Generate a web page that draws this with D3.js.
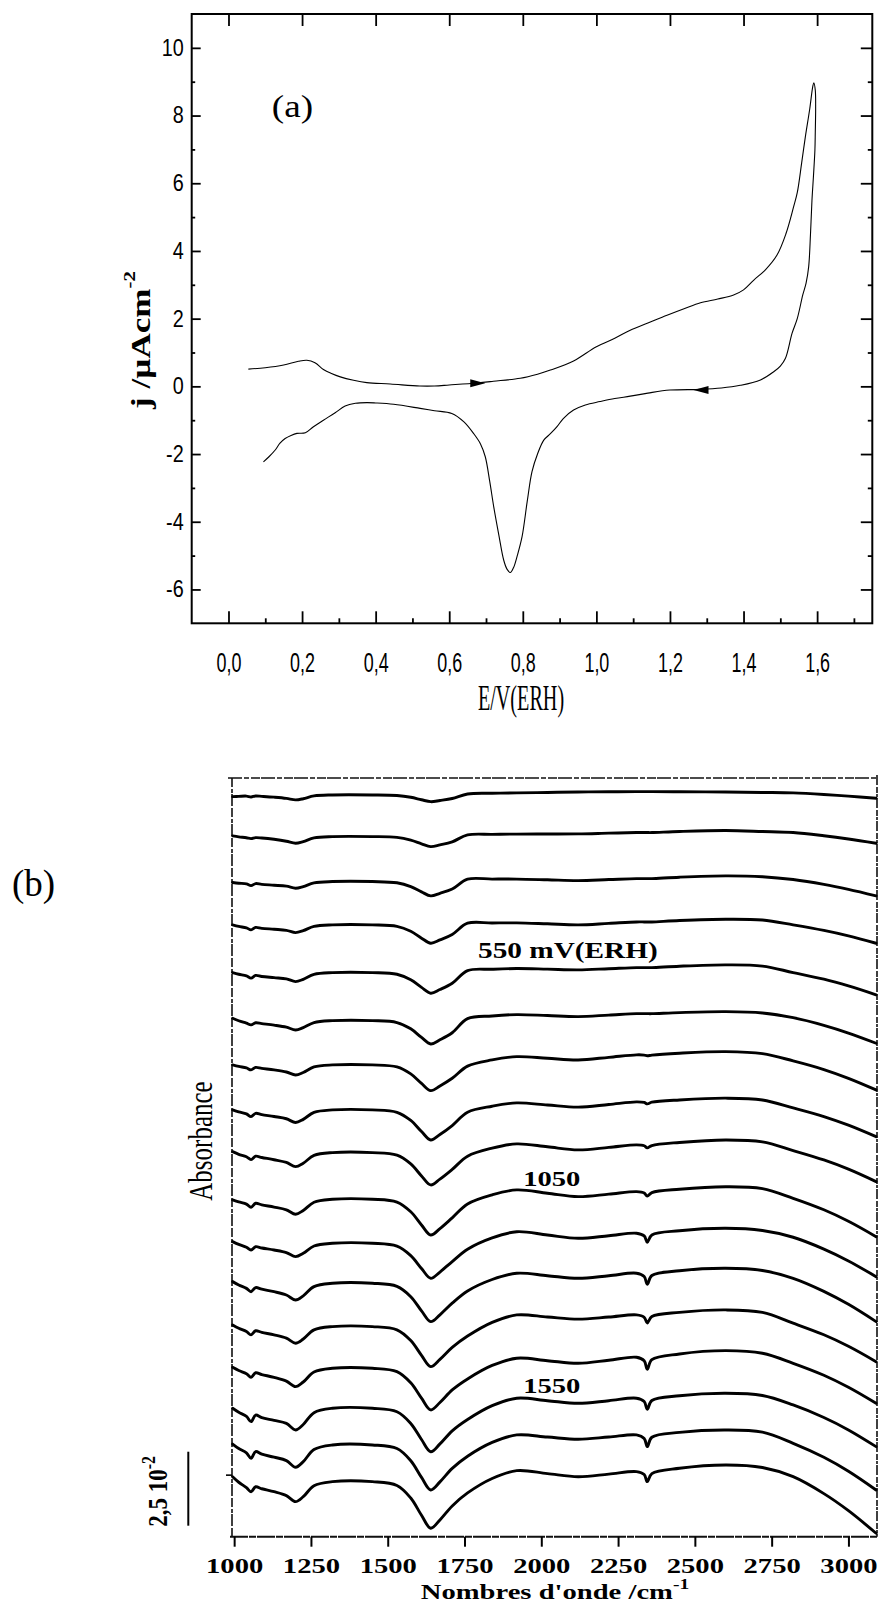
<!DOCTYPE html>
<html><head><meta charset="utf-8">
<script src="https://cdn.jsdelivr.net/npm/d3@7"></script>
<style>body{margin:0;background:#fff}svg{display:block}</style>
</head><body>
<svg id="fig" width="882" height="1604"></svg>
<script>
// ================= Panel (a): cyclic voltammogram =================
const cvE = [0.054,0.10,0.15,0.19,0.213,0.235,0.258,0.28,0.304,0.34,0.376,0.44,0.52,0.56,0.60,0.675,0.72,0.793,0.84,0.875,0.938,1.0,1.05,1.092,1.14,1.192,1.24,1.283,1.33,1.373,1.40,1.428,1.46,1.491,1.515,1.536,1.546,1.558,1.568,1.58,1.588,1.591,
  1.595,1.596,1.595,1.594,1.590,1.586,1.582,1.577,1.570,1.561,1.546,1.532,1.514,1.50,1.482,1.446,1.391,1.34,1.283,1.20,1.14,1.092,1.05,1.01,0.97,0.938,0.91,0.893,0.875,0.857,0.84,0.825,0.812,0.798,0.785,0.775,0.766,0.757,0.748,0.735,0.721,0.71,0.698,0.685,0.666,0.64,0.607,0.56,0.521,0.449,0.40,0.376,0.345,0.317,0.29,0.258,0.23,0.209,0.186,0.17,0.154,0.14,0.127,0.11,0.095];
const cvJ = [0.51,0.55,0.63,0.74,0.77,0.70,0.50,0.38,0.28,0.18,0.11,0.07,0.01,0.01,0.04,0.10,0.15,0.24,0.36,0.48,0.75,1.17,1.42,1.66,1.87,2.1,2.3,2.47,2.58,2.7,2.85,3.14,3.45,3.88,4.5,5.3,5.72,6.6,7.37,8.2,8.85,8.97,
  8.75,8.2,7.5,6.98,6.2,5.5,4.5,3.53,3.05,2.7,2.0,1.57,0.83,0.6,0.43,0.19,0.03,-0.05,-0.09,-0.11,-0.2,-0.29,-0.36,-0.45,-0.55,-0.70,-0.95,-1.19,-1.4,-1.59,-2.0,-2.52,-3.4,-4.44,-5.0,-5.35,-5.5,-5.4,-5.13,-4.4,-3.56,-2.8,-2.08,-1.7,-1.39,-1.05,-0.80,-0.72,-0.65,-0.53,-0.49,-0.48,-0.50,-0.58,-0.78,-1.0,-1.2,-1.37,-1.39,-1.45,-1.54,-1.68,-1.88,-2.08,-2.23];
const cvArrowE = [0.698, 1.264];
const cvArrowJ = [0.09, -0.11];
const cvArrowDir = [1, -1];
const aXTicks = [0,0.2,0.4,0.6,0.8,1.0,1.2,1.4,1.6];
const aXTickLabels = ["0,0","0,2","0,4","0,6","0,8","1,0","1,2","1,4","1,6"];
const aXMinor = [0.1,0.3,0.5,0.7,0.9,1.1,1.3,1.5,1.7];
const aYTicks = [-6,-4,-2,0,2,4,6,8,10];
const aYTickLabels = ["-6","-4","-2","0","2","4","6","8","10"];
const aYMinor = [-5,-3,-1,1,3,5,7,9];

// ================= Panel (b): stacked IR spectra =================
// absorbance values in units of 4·10^-4 (so the 2,5·10^-2 scale bar = 62.5 units)
const wavenumbers = [995,1015,1040,1055,1070,1090,1130,1170,1200,1225,1260,1320,1450,1530,1575,1610,1640,1670,1710,1760,1840,1920,2020,2120,2220,2310,2335,2345,2360,2450,2600,2720,2820,2920,3000,3090];
const spectraOffsets = [626.7,591.5,553.5,516.9,476.6,436.0,398.6,360.6,324.5,285.1,247.9,214.1,177.5,142.3,108.5,77.5,46.5];
const s1  = [-1.4,-1.2,-1.0,-1.7,-0.9,-1.2,-1.9,-2.9,-4.2,-3.2,-0.8,0,0,-0.5,-2.0,-4.1,-5.7,-4.7,-3.0,0.8,1.4,1.7,2.1,2.5,2.7,2.8,2.8,2.8,2.8,2.7,2.5,2.1,1.7,0.4,-1.0,-2.8];
const s2  = [0.6,-0.2,-1.0,-1.7,-0.9,-1.2,-2.3,-3.9,-5.6,-4.2,-1.1,0,0,-0.7,-3.0,-6.1,-8.5,-7.0,-4.4,1.4,1.9,2.1,2.2,2.3,2.9,3.4,3.4,3.4,3.4,4.3,5.1,4.3,3.4,0.7,-2.0,-5.6];
const s3  = [-0.8,-1.4,-2.0,-3.4,-1.7,-2.4,-3.1,-3.9,-5.6,-4.2,-1.1,0,0,-1.0,-4.2,-8.7,-12.1,-9.9,-6.3,2.0,2.1,2.1,1.5,0.8,1.7,2.5,2.5,2.5,2.5,3.7,4.8,4.1,1.7,-2.4,-6.6,-12.1];
const s4  = [0,-1.3,-2.5,-4.2,-2.1,-2.9,-3.7,-4.6,-6.5,-4.9,-1.3,0,0,-1.2,-5.4,-11.2,-15.5,-12.7,-8.1,1.4,1.6,1.7,0.9,0,1.3,2.5,2.5,2.5,2.5,3.7,4.8,4.1,0,-4.7,-9.3,-15.5];
const s5  = [0,-1.4,-2.8,-4.7,-2.4,-3.3,-4.3,-5.3,-7.6,-5.7,-1.5,0,0,-1.4,-6.1,-12.5,-17.4,-14.3,-9.0,1.7,2.8,3.4,2.9,2.3,3.3,4.2,4.2,4.2,4.2,5.4,6.5,5.5,0,-5.6,-11.3,-18.8];
const s6  = [2.0,-0.1,-2.2,-3.6,-1.8,-2.5,-3.8,-5.5,-7.9,-5.9,-1.6,0,0,-1.6,-6.9,-14.2,-19.7,-16.2,-10.2,1.7,3.9,5.1,4.3,3.4,4.7,5.9,5.9,5.9,5.9,6.8,7.6,6.5,2.5,-4.0,-10.5,-19.1];
const s7  = [0,-1.3,-2.5,-4.2,-2.1,-2.9,-4.2,-6.0,-8.5,-6.4,-1.7,0,0,-1.7,-7.6,-15.6,-21.7,-17.8,-11.3,-1.0,4.2,7.0,5.6,4.2,6.4,8.5,8.3,7.7,8.3,9.9,11.2,9.5,3.4,-3.9,-11.3,-21.1];
const s8  = [0,-1.7,-3.4,-5.7,-2.9,-4.0,-5.6,-7.5,-10.7,-8.0,-2.1,0,0,-2.0,-8.9,-18.3,-25.4,-20.8,-13.2,-2.0,3.1,5.9,4.1,2.3,4.6,6.8,6.3,5.1,6.5,8.4,9.9,8.4,1.7,-5.6,-12.9,-22.6];
const s9  = [0.8,-1.4,-3.5,-5.9,-3.0,-4.1,-6.0,-8.3,-11.8,-8.9,-2.4,0,0,-2.2,-9.6,-19.7,-27.3,-22.4,-14.2,-3.0,3.8,7.4,4.9,2.3,4.4,6.5,5.8,4.0,6.0,8.6,10.7,9.1,1.7,-6.2,-14.0,-24.5];
const s10 = [-0.6,-2.3,-4.1,-6.8,-3.4,-4.8,-6.6,-8.9,-12.7,-9.5,-2.5,0,0,-2.4,-10.6,-21.7,-30.2,-24.8,-15.7,-4.0,3.7,7.9,5.1,2.2,4.3,6.4,5.3,2.6,5.6,8.5,10.6,9.0,0.8,-8.9,-18.6,-31.6];
const s11 = [1.4,-1.0,-3.4,-5.7,-2.9,-4.0,-5.7,-7.9,-11.3,-8.5,-2.3,0,0,-2.4,-10.4,-21.3,-29.6,-24.3,-15.4,-5.0,4.6,9.8,7.0,4.2,6.4,8.5,6.2,0.9,7.0,10.6,12.7,10.8,5.1,-4.9,-14.9,-28.2];
const s12 = [1.4,-1.4,-4.3,-7.1,-3.6,-5.0,-7.1,-9.9,-14.1,-10.6,-2.8,0,0,-2.6,-11.3,-23.3,-32.4,-26.6,-16.8,-6.5,3.2,8.5,6.4,4.2,6.4,8.5,5.7,-0.8,6.6,10.6,12.7,10.8,4.2,-6.8,-17.8,-32.4];
const s13 = [1.4,-1.4,-4.2,-7.0,-3.5,-4.9,-7.0,-9.8,-14.0,-10.5,-2.8,0,0,-2.7,-11.8,-24.3,-33.8,-27.7,-17.6,-8.0,3.6,9.9,8.1,6.3,8.1,9.9,7.9,3.1,8.5,12.0,14.1,12.0,2.9,-6.9,-16.6,-29.6];
const s14 = [0.8,-1.9,-4.6,-7.6,-3.8,-5.3,-7.7,-10.9,-15.5,-11.6,-3.1,0,0,-2.8,-12.3,-25.3,-35.2,-28.9,-18.3,-9.0,2.4,8.5,6.4,4.2,6.8,9.3,6.3,-0.8,7.3,12.1,14.9,12.7,4.2,-5.9,-16.1,-29.6];
const s15 = [0,-3.4,-6.8,-11.3,-5.7,-7.9,-10.2,-12.8,-18.3,-13.7,-3.7,0,0,-2.9,-12.8,-26.4,-36.7,-30.1,-19.1,-9.5,2.2,8.5,6.4,4.2,6.4,8.5,5.7,-0.8,6.6,10.6,12.7,10.8,2.8,-7.8,-18.3,-32.4];
const s16 = [0.8,-3.0,-6.7,-11.2,-5.6,-7.8,-10.3,-13.2,-18.8,-14.1,-3.8,0,0,-3.0,-13.3,-27.4,-38.0,-31.2,-19.8,-9.5,2.2,8.5,6.7,4.8,6.7,8.5,5.5,-1.4,6.5,10.6,12.7,10.8,1.4,-10.4,-22.2,-38.0];
const s17 = [4.2,-0.5,-5.1,-8.5,-4.3,-6.0,-8.5,-11.8,-16.9,-12.7,-3.4,0,0,-3.2,-13.8,-28.4,-39.4,-32.3,-20.5,-9.5,2.7,9.3,6.8,4.2,6.4,8.5,6.0,0,6.8,11.3,14.1,12.0,4.2,-10.1,-24.5,-43.6];
const spectraDeltas = [s1,s2,s3,s4,s5,s6,s7,s8,s9,s10,s11,s12,s13,s14,s15,s16,s17];
const bXTicks = [1000,1250,1500,1750,2000,2250,2500,2750,3000];
const bXTickLabels = ["1000","1250","1500","1750","2000","2250","2500","2750","3000"];
const spectraLabels = ["550 mV(ERH)","1050","1550"];
const spectraLabelWn = [1794,1941,1941];
const spectraLabelAbs = [489,296,121.5];
const scaleBarAbs = [9.3, 71.8]; // 2,5·10^-2 absorbance

// ---------------------------------------------------------------
const svg = d3.select("#fig");
const SERIF = "'Liberation Serif','Times New Roman',serif";
const SANS = "'Liberation Sans',Arial,sans-serif";
function stretch(sel, f){
  sel.each(function(){
    const L = this.getComputedTextLength();
    this.setAttribute("textLength", L*f);
    this.setAttribute("lengthAdjust","spacingAndGlyphs");
  });
}

// ---------- Panel (a) ----------
const A = {l:191.7, r:872.3, t:14, b:623.3};
const xa = d3.scaleLinear().domain([-0.1,1.75]).range([A.l,A.r]);
const ya = d3.scaleLinear().domain([-7,11]).range([A.b,A.t]);
const ga = svg.append("g");

function styleAxis(g){ g.select(".domain").remove(); g.selectAll(".tick line").attr("stroke","#000").attr("stroke-width",1.8); }

ga.append("g").attr("transform",`translate(0,${A.b})`)
  .call(d3.axisBottom(xa).tickValues(aXMinor).tickSize(-5).tickFormat(""))
  .call(styleAxis);
ga.append("g").attr("transform",`translate(${A.l},0)`)
  .call(d3.axisLeft(ya).tickValues(aYMinor).tickSize(-3.5).tickFormat(""))
  .call(styleAxis);
ga.append("g").attr("transform",`translate(${A.r},0)`)
  .call(d3.axisRight(ya).tickValues(aYMinor).tickSize(-4.5).tickFormat(""))
  .call(styleAxis);
const axB = ga.append("g").attr("transform",`translate(0,${A.b})`)
  .call(d3.axisBottom(xa).tickValues(aXTicks).tickSize(-12).tickPadding(29).tickFormat((d,i)=>aXTickLabels[i]))
  .call(styleAxis);
ga.append("g").attr("transform",`translate(0,${A.t})`)
  .call(d3.axisTop(xa).tickValues(aXTicks).tickSize(-12).tickFormat(""))
  .call(styleAxis);
const axL = ga.append("g").attr("transform",`translate(${A.l},0)`)
  .call(d3.axisLeft(ya).tickValues(aYTicks).tickSize(-9).tickPadding(8).tickFormat((d,i)=>aYTickLabels[i]))
  .call(styleAxis);
ga.append("g").attr("transform",`translate(${A.r},0)`)
  .call(d3.axisRight(ya).tickValues(aYTicks).tickSize(-11.5).tickFormat(""))
  .call(styleAxis);

axB.selectAll("text").attr("font-family",SANS).attr("font-size",28).attr("fill","#000");
stretch(axB.selectAll("text"), 0.64);
axL.selectAll("text").attr("font-family",SANS).attr("font-size",23).attr("fill","#000");
stretch(axL.selectAll("text"), 0.86);

ga.append("rect").attr("x",A.l).attr("y",A.t).attr("width",A.r-A.l).attr("height",A.b-A.t)
  .attr("fill","none").attr("stroke","#000").attr("stroke-width",2);

const cvPts = cvE.map((e,i)=>[e,cvJ[i]]);
ga.append("path").datum(cvPts)
  .attr("d", d3.line().x(d=>xa(d[0])).y(d=>ya(d[1])).curve(d3.curveCatmullRom.alpha(0.5)))
  .attr("fill","none").attr("stroke","#000").attr("stroke-width",1.1);
cvArrowE.forEach((e,i)=>{
  const x = xa(e), y = ya(cvArrowJ[i]), s = cvArrowDir[i];
  ga.append("path").attr("d",`M${x},${y} L${x-15*s},${y-4} L${x-15*s},${y+4} Z`).attr("fill","#000");
});

const ta = ga.append("text").attr("x",292.5).attr("y",117).attr("text-anchor","middle")
  .attr("font-family",SERIF).attr("font-size",31).text("(a)");
stretch(ta, 1.2);
const tx = ga.append("text").attr("x",521).attr("y",710).attr("text-anchor","middle")
  .attr("font-family",SERIF).attr("font-size",36).text("E/V(ERH)");
stretch(tx, 0.56);
const ty = ga.append("text").attr("transform","translate(150,409) rotate(-90) scale(1.3,1)")
  .attr("font-family",SERIF).attr("font-weight","bold").attr("font-size",27);
ty.append("tspan").text("j /µAcm");
ty.append("tspan").attr("font-size",16).attr("dy",-15).text("-2");

// ---------- Panel (b) ----------
const B = {l:232, r:877, t:778, b:1536.7};
const xb = d3.scaleLinear().domain([993,3093]).range([B.l,B.r]);
const yb = d3.scaleLinear().domain([0,641]).range([B.b,B.t]);
const gb = svg.append("g");

gb.append("line").attr("x1",228).attr("x2",B.r+1).attr("y1",B.t).attr("y2",B.t)
  .attr("stroke","#111").attr("stroke-width",1.6).attr("stroke-dasharray","14 2 5 2 9 1");
gb.append("line").attr("x1",B.l).attr("x2",B.l).attr("y1",B.t).attr("y2",B.b)
  .attr("stroke","#111").attr("stroke-width",1.6).attr("stroke-dasharray","9 2 4 1 12 2");
gb.append("line").attr("x1",B.r).attr("x2",B.r).attr("y1",B.t-3).attr("y2",B.b)
  .attr("stroke","#111").attr("stroke-width",1.6).attr("stroke-dasharray","10 2 6 1 3 1");
gb.append("line").attr("x1",B.l-2).attr("x2",B.r+1).attr("y1",B.b).attr("y2",B.b)
  .attr("stroke","#111").attr("stroke-width",2).attr("stroke-dasharray","18 1 7 1");
gb.append("line").attr("x1",B.l-6).attr("x2",B.l).attr("y1",yb(52)).attr("y2",yb(52))
  .attr("stroke","#000").attr("stroke-width",1.6);

const axBb = gb.append("g").attr("transform",`translate(0,${B.b})`)
  .call(d3.axisBottom(xb).tickValues(bXTicks).tickSize(10).tickPadding(20).tickFormat((d,i)=>bXTickLabels[i]));
axBb.select(".domain").remove();
axBb.selectAll(".tick line").attr("stroke","#000").attr("stroke-width",2);
axBb.selectAll("text").attr("y",36).attr("dy",null).attr("font-family",SERIF)
  .attr("font-weight","bold").attr("font-size",22).attr("fill","#000");
stretch(axBb.selectAll("text"), 1.3);

const line = d3.line().x(d=>xb(d[0])).y(d=>yb(d[1])).curve(d3.curveCatmullRom.alpha(0.5));
spectraDeltas.forEach((arr,i)=>{
  const pts = wavenumbers.map((w,k)=>[w, spectraOffsets[i]+arr[k]]);
  gb.append("path").datum(pts).attr("d",line)
    .attr("fill","none").attr("stroke","#000").attr("stroke-width",2.9)
    .attr("stroke-linejoin","round").attr("stroke-linecap","round");
});

spectraLabels.forEach((t,i)=>{
  const el = gb.append("text").attr("x",xb(spectraLabelWn[i])).attr("y",yb(spectraLabelAbs[i]))
    .attr("font-family",SERIF).attr("font-weight","bold").attr("font-size", i===0?24:22).text(t);
  stretch(el, i===0?1.22:1.3);
});

const tb = gb.append("text").attr("x",555).attr("y",1599).attr("text-anchor","middle")
  .attr("font-family",SERIF).attr("font-weight","bold").attr("font-size",22);
tb.append("tspan").text("Nombres d'onde /cm");
tb.append("tspan").attr("font-size",15).attr("dy",-10).text("-1");
stretch(tb, 1.3);

gb.append("text").attr("transform","translate(212,1141) rotate(-90) scale(1,1.35)")
  .attr("text-anchor","middle").attr("font-family",SERIF).attr("font-size",25).text("Absorbance");

gb.append("line").attr("x1",188.3).attr("x2",188.3).attr("y1",yb(scaleBarAbs[0])).attr("y2",yb(scaleBarAbs[1]))
  .attr("stroke","#000").attr("stroke-width",2);
const sb = gb.append("text").attr("transform",`translate(167,${yb(scaleBarAbs[0])+1}) rotate(-90) scale(1,1.2)`)
  .attr("font-family",SERIF).attr("font-weight","bold").attr("font-size",23);
sb.append("tspan").text("2,5 10");
sb.append("tspan").attr("font-size",16).attr("dy",-10).text("-2");

gb.append("text").attr("x",33.5).attr("y",896).attr("text-anchor","middle")
  .attr("font-family",SERIF).attr("font-size",37).text("(b)");
</script>
</body></html>
